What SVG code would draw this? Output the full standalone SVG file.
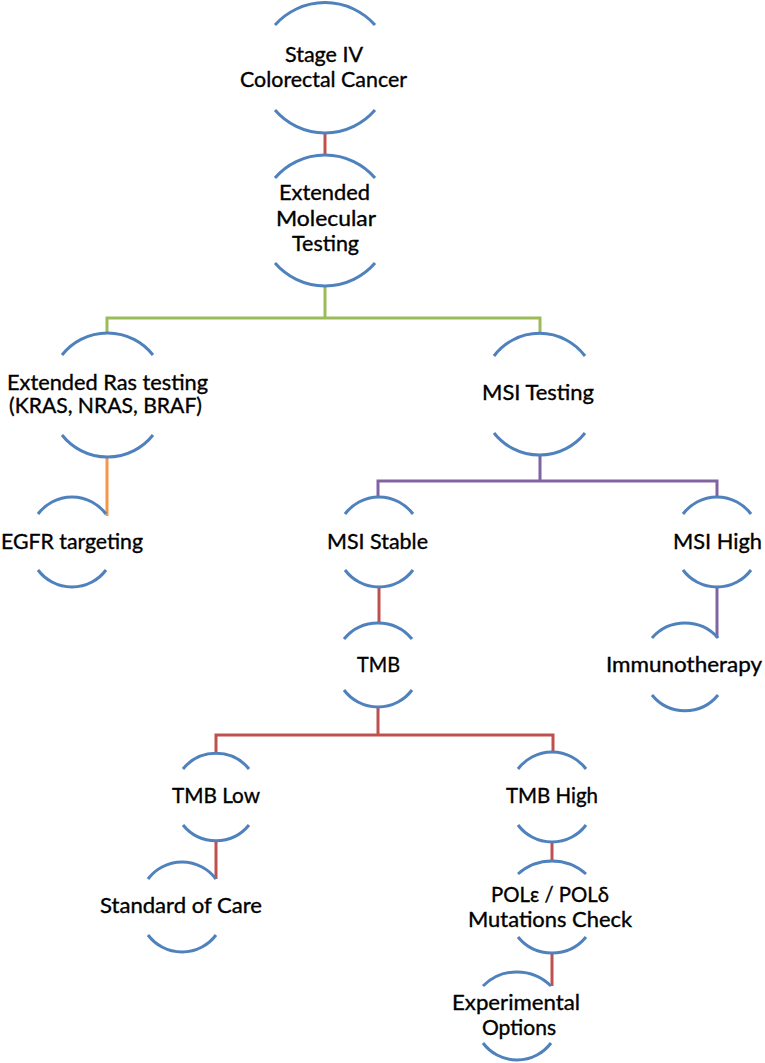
<svg xmlns="http://www.w3.org/2000/svg" width="765" height="1063" viewBox="0 0 765 1063">
<style>
.arc{fill:none;stroke:#4F81BD;stroke-width:3;stroke-linecap:butt}
.c{fill:none;stroke-width:3;stroke-linejoin:miter}
.red{stroke:#C0504D}.green{stroke:#9BBB59}.purple{stroke:#8064A2}.orange{stroke:#F79646}
text{font-family:Lato,"Open Sans","Liberation Sans",sans-serif;font-size:21px;fill:#000;stroke:#000;stroke-width:0.35;text-anchor:middle}
</style>
<rect width="765" height="1063" fill="#fff"/>
<g id="connectors">
<path class="c red" d="M325 133V156"/>
<path class="c green" d="M325 286V318H107V333M325 318H540V333"/>
<path class="c orange" d="M107 457V516"/>
<path class="c purple" d="M540 455V481H378V497M540 481H717V497"/>
<path class="c purple" d="M717 587V638"/>
<path class="c red" d="M379 588V623"/>
<path class="c red" d="M378 707V735H216V752M378 735H553V752"/>
<path class="c red" d="M216 842V879"/>
<path class="c red" d="M552 842V861"/>
<path class="c red" d="M552 953V986"/>
</g>
<g id="n-stage4">
<path class="arc" d="M275 25A67 67 0 0 1 375 25"/>
<path class="arc" d="M275 110A66 66 0 0 0 375 110"/>
<text x="324" y="62" textLength="78" lengthAdjust="spacingAndGlyphs">Stage IV</text>
<text x="323.5" y="87" textLength="167" lengthAdjust="spacingAndGlyphs">Colorectal Cancer</text>
</g>
<g id="n-extmol">
<path class="arc" d="M275 178A66 66 0 0 1 375 178"/>
<path class="arc" d="M275 263A66 66 0 0 0 375 263"/>
<text x="324.5" y="200" textLength="91" lengthAdjust="spacingAndGlyphs">Extended</text>
<text x="326" y="226" textLength="100" lengthAdjust="spacingAndGlyphs">Molecular</text>
<text x="325.5" y="251" textLength="67" lengthAdjust="spacingAndGlyphs">Testing</text>
</g>
<g id="n-ras">
<path class="arc" d="M62 355A58 58 0 0 1 153 355"/>
<path class="arc" d="M62 435A58 58 0 0 0 153 435"/>
<text x="107.5" y="390" textLength="201" lengthAdjust="spacingAndGlyphs">Extended Ras testing</text>
<text x="105.5" y="413" textLength="193" lengthAdjust="spacingAndGlyphs">(KRAS, NRAS, BRAF)</text>
</g>
<g id="n-msitest">
<path class="arc" d="M494 356A57 57 0 0 1 585 356"/>
<path class="arc" d="M494 433A58 58 0 0 0 585 433"/>
<text x="538" y="400" textLength="112" lengthAdjust="spacingAndGlyphs">MSI Testing</text>
</g>
<g id="n-egfr">
<path class="arc" d="M38 514A42.5 42.5 0 0 1 106 514"/>
<path class="arc" d="M38 570A42.5 42.5 0 0 0 106 570"/>
<text x="72" y="549" textLength="142" lengthAdjust="spacingAndGlyphs">EGFR targeting</text>
</g>
<g id="n-msistable">
<path class="arc" d="M345 514A42.5 42.5 0 0 1 413 514"/>
<path class="arc" d="M345 570A42.5 42.5 0 0 0 413 570"/>
<text x="377.5" y="549" textLength="101" lengthAdjust="spacingAndGlyphs">MSI Stable</text>
</g>
<g id="n-msihigh">
<path class="arc" d="M683 514A42.5 42.5 0 0 1 751 514"/>
<path class="arc" d="M683 570A42.5 42.5 0 0 0 751 570"/>
<text x="717.5" y="549" textLength="89" lengthAdjust="spacingAndGlyphs">MSI High</text>
</g>
<g id="n-tmb">
<path class="arc" d="M344 639A44 44 0 0 1 412 639"/>
<path class="arc" d="M344 690A42.5 42.5 0 0 0 412 690"/>
<text x="378.5" y="672" textLength="43" lengthAdjust="spacingAndGlyphs">TMB</text>
</g>
<g id="n-immuno">
<path class="arc" d="M652 638A44 44 0 0 1 718 638"/>
<path class="arc" d="M652 695A42.5 42.5 0 0 0 718 695"/>
<text x="684" y="672" textLength="156" lengthAdjust="spacingAndGlyphs">Immunotherapy</text>
</g>
<g id="n-tmblow">
<path class="arc" d="M183 769A42.5 42.5 0 0 1 249 769"/>
<path class="arc" d="M183 825A42.5 42.5 0 0 0 249 825"/>
<text x="216" y="803" textLength="88" lengthAdjust="spacingAndGlyphs">TMB Low</text>
</g>
<g id="n-tmbhigh">
<path class="arc" d="M518 769A42.5 42.5 0 0 1 586 769"/>
<path class="arc" d="M518 825A42.5 42.5 0 0 0 586 825"/>
<text x="552" y="803" textLength="92" lengthAdjust="spacingAndGlyphs">TMB High</text>
</g>
<g id="n-soc">
<path class="arc" d="M148 879A42.5 42.5 0 0 1 216 879"/>
<path class="arc" d="M148 935A42.5 42.5 0 0 0 216 935"/>
<text x="181" y="913" textLength="162" lengthAdjust="spacingAndGlyphs">Standard of Care</text>
</g>
<g id="n-pol">
<path class="arc" d="M518 874A51 51 0 0 1 586 874"/>
<path class="arc" d="M518 937A44 44 0 0 0 586 937"/>
<text x="550" y="902" textLength="118" lengthAdjust="spacingAndGlyphs">POLε / POLδ</text>
<text x="550" y="927" textLength="164" lengthAdjust="spacingAndGlyphs">Mutations Check</text>
</g>
<g id="n-exp">
<path class="arc" d="M483 986A48 48 0 0 1 551 986"/>
<path class="arc" d="M483 1043A42.5 42.5 0 0 0 551 1043"/>
<text x="516" y="1010" textLength="128" lengthAdjust="spacingAndGlyphs">Experimental</text>
<text x="519" y="1035" textLength="74" lengthAdjust="spacingAndGlyphs">Options</text>
</g>
</svg>
